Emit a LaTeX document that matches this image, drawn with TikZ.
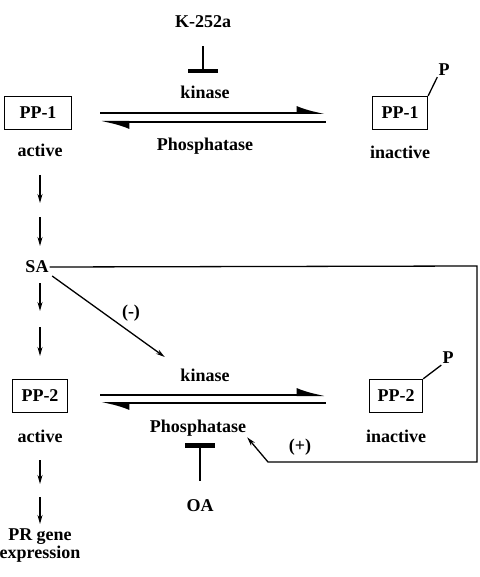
\documentclass[tikz,border=0pt]{standalone}
\usepackage{fontspec}
\setmainfont{Liberation Serif}
\usetikzlibrary{arrows.meta}

\begin{document}
\begin{tikzpicture}[x=1pt, y=-1pt, >=LaTeX,
        every node/.style={font=\fontsize{18}{18}\selectfont\bfseries, inner sep=1pt},
        ppbox/.style={draw, line width=1.3pt, minimum height=33pt, inner sep=0pt},
        dn/.style={-{Stealth[length=9pt,width=5pt]}, line width=1.3pt},
        fwd/.style={-{Latex[left,length=24pt,width=14pt]}, line width=2pt},
        inh/.style={-{Bar[width=30pt,line width=4.5pt]}, line width=1.3pt}]
        \useasboundingbox (0,0) rectangle (479,577);

        % upper cycle
        \node[ppbox, minimum width=67pt] (pp1a) at (38,113) {PP-1};
        \node[ppbox, minimum width=55pt] (pp1b) at (400,113) {PP-1};
        \node (act1)   at (40,150)  {active};
        \node (inact1) at (400,152) {inactive};
        \node (kin1)   at (205,92)  {kinase};
        \node (pho1)   at (205,146) {Phosphatase};
        \node (k252)   at (203,22)  {K-252a};
        \node (p1)     at (444,70)  {P};

        \draw[fwd] ([xshift=28pt]pp1a.east) -- ([xshift=-46pt]pp1b.west);
        \draw[fwd] ([xshift=-46pt, yshift=-9pt]pp1b.west)
                   -- ([xshift=28pt, yshift=-9pt]pp1a.east);
        \draw[line width=1.3pt] (pp1b.north east) -- (p1.south west);
        \draw[inh, shorten <=17pt, shorten >=11pt] (k252) -- (k252 |- kin1.north);

        % lower cycle
        \node[ppbox, minimum width=55pt] (pp2a) at (40,396) {PP-2};
        \node[ppbox, minimum width=53pt] (pp2b) at (396,396) {PP-2};
        \node (act2)   at (40,436)  {active};
        \node (inact2) at (396,436) {inactive};
        \node (kin2)   at (205,375) {kinase};
        \node (pho2)   at (198,428) {Phosphatase};
        \node (oa)     at (200,506) {OA};
        \node (p2)     at (448,358) {P};
        \node[align=center] (prg) at (40,546) {PR gene\\expression};

        \draw[fwd] ([xshift=32pt, yshift=1pt]pp2a.east) -- ([xshift=-43pt, yshift=1pt]pp2b.west);
        \draw[fwd] ([xshift=-43pt, yshift=-7pt]pp2b.west)
                   -- ([xshift=32pt, yshift=-7pt]pp2a.east);
        \draw[line width=1.3pt] (pp2b.north east) -- (p2.south west);
        \draw[inh, shorten <=18pt, shorten >=6pt] (oa) -- (oa |- pho2.south);

        % signal chain on the left
        \node (sa) at (37,267) {SA};
        \coordinate (a1) at (40,175);
        \coordinate (a2) at (40,203);
        \coordinate (a3) at (40,217);
        \coordinate (a4) at (40,246);
        \coordinate (a5) at (40,283);
        \coordinate (a6) at (40,311);
        \coordinate (a7) at (40,327);
        \coordinate (a8) at (40,356);
        \coordinate (a9) at (40,460);
        \coordinate (a10) at (40,484);
        \coordinate (a11) at (40,497);
        \coordinate (a12) at (40,524);
        \draw[dn] (a1) -- (a2);
        \draw[dn] (a3) -- (a4);
        \draw[dn] (a5) -- (a6);
        \draw[dn] (a7) -- (a8);
        \draw[dn] (a9) -- (a10);
        \draw[dn] (a11) -- (a12);

        % SA feedback
        \coordinate (rt)   at (477,266);
        \coordinate (rb)   at (477,462);
        \coordinate (bend) at (268,462);
        \draw[dn, shorten <=3pt, shorten >=18pt] (sa.south east) -- (kin2.north west);
        \node (minus) at (131,313) {(-)};
        \draw[dn] (sa.east) -- (rt) -- (rb) -- (bend) -- (pho2.south east);
        \node (plus) at (300,447) {(+)};
    \end{tikzpicture}
\end{document}
